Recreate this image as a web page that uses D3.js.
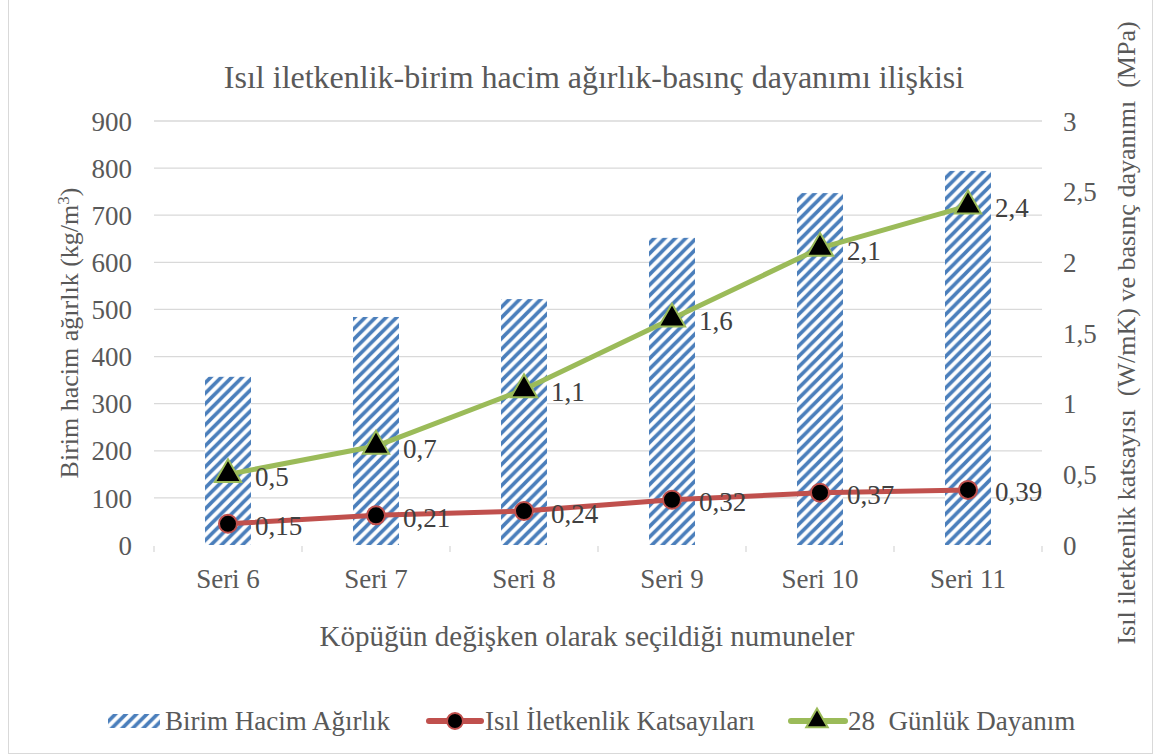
<!DOCTYPE html>
<html><head><meta charset="utf-8">
<script src="https://cdn.jsdelivr.net/npm/d3@7"></script>
<style>body{margin:0;background:#fff}svg{display:block}text{font-family:"Liberation Serif","Times New Roman",serif;fill:#595959}</style>
</head><body><svg id="c" width="1153" height="755"></svg>
<script>
const categories = ["Seri 6","Seri 7","Seri 8","Seri 9","Seri 10","Seri 11"];
const density = [357, 484, 522, 652, 747, 794];
const conductivity = [0.15, 0.21, 0.24, 0.32, 0.37, 0.39];
const strength = [0.5, 0.7, 1.1, 1.6, 2.1, 2.4];
const leftTicks = [0,100,200,300,400,500,600,700,800,900];
const rightTicks = [0,0.5,1,1.5,2,2.5,3];
const labels = {left:"Birim hacim ağırlık (kg/m", right:"Isıl iletkenlik katsayısı  (W/mK) ve basınç dayanımı  (MPa)",
  x:"Köpüğün değişken olarak seçildiği numuneler", title:"Isıl iletkenlik-birim hacim ağırlık-basınç dayanımı ilişkisi"};
const legendNames = ["Birim Hacim Ağırlık","Isıl İletkenlik Katsayıları","28  Günlük Dayanım"];

const svg = d3.select("#c");
const W=1153,H=755, L=154, R=1042, T=121, B=545;
const blue="#4A7EBB", red="#C0504D", green="#9BBB59", grid="#D9D9D9";
const fmt = v => String(v).replace(".", ",");
const SERIF = "Liberation Serif";

svg.append("rect").attr("x",8.5).attr("y",-1).attr("width",W-9).attr("height",H-0.5).attr("fill","#fff").attr("stroke","#D9D9D9");

const defs = svg.append("defs");
const P = 10.5;
const pat = defs.append("pattern").attr("id","stripes").attr("patternUnits","userSpaceOnUse")
  .attr("width",P).attr("height",P);
pat.append("rect").attr("width",P).attr("height",P).attr("fill","#fff");
pat.append("path").attr("d",`M-3,3 L3,-3 M0,${P} L${P},0 M${P-3},${P+3} L${P+3},${P-3}`).attr("stroke",blue).attr("stroke-width",3.6);

const x = d3.scaleBand().domain(categories).range([L,R]);
const yL = d3.scaleLinear().domain([0,900]).range([B,T]);
const yR = d3.scaleLinear().domain([0,3]).range([B,T]);
const cx = c => x(c)+x.bandwidth()/2;

// gridlines
svg.append("g").selectAll("line").data(leftTicks.filter(d=>d>0)).join("line")
  .attr("x1",L).attr("x2",R).attr("y1",d=>yL(d)).attr("y2",d=>yL(d)).attr("stroke",grid).attr("stroke-width",1.3);
// category ticks
const bounds = categories.map(c=>x(c)).concat([R]);
svg.append("g").selectAll("line").data(bounds).join("line")
  .attr("x1",d=>d).attr("x2",d=>d).attr("y1",B+1).attr("y2",B+7).attr("stroke",grid).attr("stroke-width",1.3);

// left axis
const gl = svg.append("g").attr("transform",`translate(${L-22},0)`)
  .call(d3.axisLeft(yL).tickValues(leftTicks).tickSize(0).tickPadding(0));
gl.select(".domain").remove();
gl.selectAll("text").style("font-size","27px").style("font-family",SERIF).style("fill","#595959").attr("dy","0.34em");
// right axis
const gr = svg.append("g").attr("transform",`translate(${R+21},0)`)
  .call(d3.axisRight(yR).tickValues(rightTicks).tickSize(0).tickPadding(0).tickFormat(fmt));
gr.select(".domain").remove();
gr.selectAll("text").style("font-size","27px").style("font-family",SERIF).style("fill","#595959").attr("text-anchor","start").attr("dy","0.34em");
// x axis
const gx = svg.append("g").attr("transform",`translate(0,${B+21})`)
  .call(d3.axisBottom(x).tickSize(0).tickPadding(0));
gx.select(".domain").remove();
gx.selectAll("text").style("font-size","27px").style("font-family",SERIF).style("fill","#595959").attr("dy","0.8em");

// bars
const bw = 46;
svg.append("g").selectAll("rect").data(density).join("rect")
  .attr("x",(d,i)=>cx(categories[i])-bw/2).attr("width",bw)
  .attr("y",d=>yL(d)).attr("height",d=>B-yL(d)).attr("fill","url(#stripes)");

// lines
const line = d3.line().x((d,i)=>cx(categories[i])).y(d=>yR(d));
svg.append("path").datum(conductivity).attr("d",line).attr("fill","none").attr("stroke",red).attr("stroke-width",5).attr("stroke-linejoin","round");
svg.append("path").datum(strength).attr("d",line).attr("fill","none").attr("stroke",green).attr("stroke-width",5).attr("stroke-linejoin","round");

svg.append("g").selectAll("circle").data(conductivity).join("circle")
  .attr("cx",(d,i)=>cx(categories[i])).attr("cy",d=>yR(d)).attr("r",9).attr("fill","#000").attr("stroke",red).attr("stroke-width",2);
const tri = d3.symbol().type(d3.symbolTriangle).size(300);
svg.append("g").selectAll("path").data(strength).join("path")
  .attr("transform",(d,i)=>`translate(${cx(categories[i])},${yR(d)})`).attr("d",tri)
  .attr("fill","#000").attr("stroke",green).attr("stroke-width",2);

// data labels
function dl(data){
  svg.append("g").selectAll("text").data(data).join("text")
    .attr("x",(d,i)=>cx(categories[i])+27).attr("y",d=>yR(d)+2).attr("dy","0.35em")
    .style("font-size","27px").style("fill","#404040").text(fmt);
}
dl(conductivity); dl(strength);

// titles
svg.append("text").attr("x",594).attr("y",88).attr("text-anchor","middle").style("font-size","32px").text(labels.title);
svg.append("text").attr("x",587).attr("y",646).attr("text-anchor","middle").style("font-size","29px").text(labels.x);
const lt = svg.append("text").attr("transform","translate(78,333) rotate(-90)").attr("text-anchor","middle").style("font-size","26px");
lt.append("tspan").text(labels.left);
lt.append("tspan").attr("baseline-shift","super").style("font-size","17px").text("3");
lt.append("tspan").text(")");
svg.append("text").attr("transform","translate(1135,333) rotate(-90)").attr("text-anchor","middle")
  .style("font-size","26px").style("white-space","pre").attr("xml:space","preserve").text(labels.right);

// legend
const ly = 721;
const lg = svg.append("g");
lg.append("rect").attr("x",108).attr("y",ly-7).attr("width",52).attr("height",14).attr("fill","url(#stripes)");
lg.append("text").attr("x",165).attr("y",ly).attr("dy","0.35em").style("font-size","27px").text(legendNames[0]);
lg.append("line").attr("x1",429).attr("x2",481).attr("y1",ly).attr("y2",ly).attr("stroke",red).attr("stroke-width",6).attr("stroke-linecap","round");
lg.append("circle").attr("cx",455).attr("cy",ly).attr("r",8).attr("fill","#000").attr("stroke",red).attr("stroke-width",2);
lg.append("text").attr("x",485).attr("y",ly).attr("dy","0.35em").style("font-size","27px").text(legendNames[1]);
lg.append("line").attr("x1",791).attr("x2",845).attr("y1",ly).attr("y2",ly).attr("stroke",green).attr("stroke-width",6).attr("stroke-linecap","round");
lg.append("path").attr("transform",`translate(817,${ly})`).attr("d",d3.symbol().type(d3.symbolTriangle).size(200)).attr("fill","#000").attr("stroke",green).attr("stroke-width",2);
lg.append("text").attr("x",848).attr("y",ly).attr("dy","0.35em").style("font-size","27px").style("white-space","pre").attr("xml:space","preserve").text(legendNames[2]);
</script></body></html>
